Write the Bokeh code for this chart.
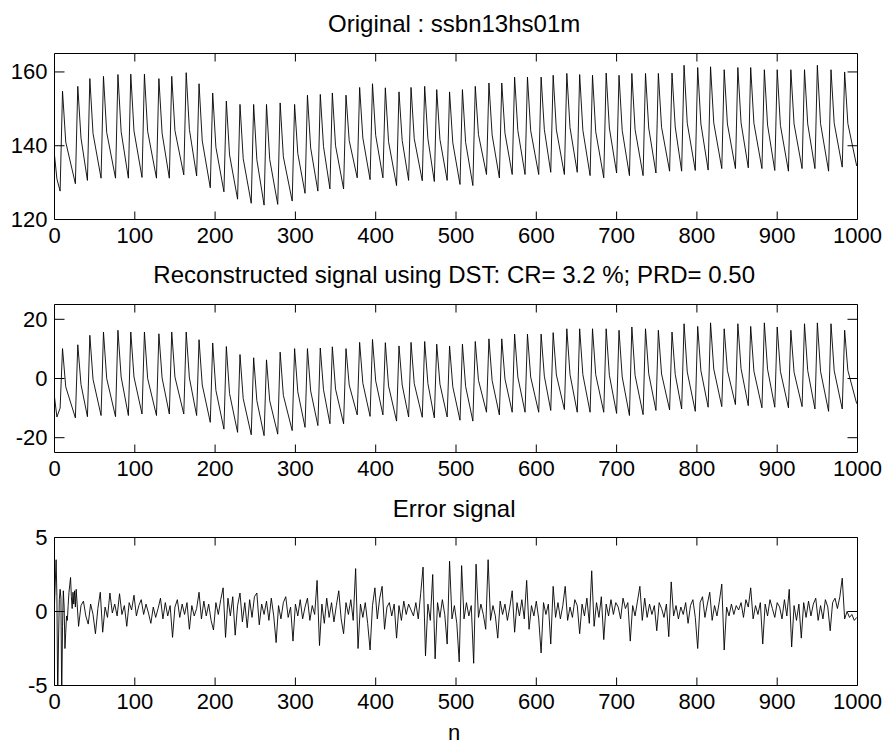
from math import pi
from bokeh.plotting import figure
from bokeh.layouts import column
from bokeh.models import Range1d, FixedTicker, Label
from bokeh.embed import file_html
from bokeh.resources import INLINE

FONT = "Liberation Sans"

# ---------------- data ----------------
x_ticks = [0, 100, 200, 300, 400, 500, 600, 700, 800, 900, 1000]

# beat landmarks (sample index): foot, systolic peak, dicrotic notch
beat_trough_x = [7, 26, 41, 58, 76, 92, 109, 127, 143, 161, 177, 194, 211, 228, 245, 261, 278, 296, 312, 328,
                 343, 360, 377, 393, 409, 426, 441, 458, 473, 489, 505, 521, 538, 554, 570, 586, 603, 618, 635, 651,
                 667, 684, 700, 716, 733, 749, 766, 781, 798, 814, 831, 848, 864, 881, 897, 914, 931, 947, 964, 981]
beat_peak_x = [10, 29, 44, 61, 79, 95, 112, 130, 146, 164, 180, 197, 214, 231, 248, 264, 281, 299, 315, 331,
               346, 363, 380, 396, 412, 429, 444, 461, 476, 492, 508, 524, 541, 557, 573, 589, 606, 621, 638, 654,
               670, 687, 703, 719, 736, 752, 769, 784, 801, 817, 834, 851, 867, 884, 900, 917, 934, 950, 967, 984]
beat_notch_x = [14, 33, 48, 65, 83, 99, 116, 134, 150, 168, 184, 201, 218, 235, 252, 268, 285, 303, 319, 335,
                350, 367, 384, 400, 416, 433, 448, 465, 480, 496, 512, 528, 545, 561, 577, 593, 610, 625, 642, 658,
                674, 691, 707, 723, 740, 756, 773, 788, 805, 821, 838, 855, 871, 888, 904, 921, 938, 954, 971, 988]

# Original signal
orig_head_x = [0, 3]
orig_head_y = [137.4, 131.0]
orig_trough = [127.7, 129.7, 130.6, 131.2, 131.2, 131.2, 131.4, 131.2, 131.2, 132.1,
               131.8, 128.6, 127.5, 125.5, 124.4, 123.9, 124.1, 125.0, 127.1, 127.7,
               128.3, 128.3, 131.3, 130.8, 131.3, 129.2, 130.6, 130.5, 130.3, 130.6,
               129.5, 129.2, 132.2, 131.3, 132.2, 132.2, 132.2, 132.8, 132.2, 132.8,
               131.9, 131.3, 132.6, 131.9, 131.9, 132.6, 133.1, 133.1, 133.3, 133.4,
               133.8, 133.8, 134.0, 133.8, 133.3, 133.1, 133.8, 133.8, 133.1, 134.2]
orig_peak = [154.8, 156.1, 158.2, 158.8, 159.3, 159.4, 159.4, 158.2, 158.8, 159.8,
             156.8, 154.3, 152.1, 151.2, 151.2, 151.2, 151.6, 151.2, 153.7, 153.9,
             154.3, 153.7, 155.8, 156.8, 155.7, 154.6, 155.8, 156.1, 155.2, 154.6,
             155.2, 156.1, 157.0, 157.0, 158.6, 158.6, 158.6, 159.1, 159.6, 159.3,
             159.1, 159.7, 159.1, 159.6, 159.6, 159.6, 159.7, 161.8, 161.2, 161.4,
             160.6, 161.2, 161.2, 160.6, 160.6, 160.6, 160.6, 161.8, 160.6, 160.0]
orig_notch = [141.0, 142.1, 143.3, 143.6, 143.8, 144.0, 143.9, 143.4, 144.1, 144.4,
              141.3, 139.6, 137.5, 136.5, 136.2, 136.3, 137.0, 137.9, 139.4, 139.8,
              140.0, 141.4, 142.1, 142.8, 141.1, 141.4, 141.9, 141.9, 141.7, 140.8,
              140.9, 143.0, 142.9, 143.4, 144.1, 144.1, 144.4, 144.3, 144.9, 144.2,
              143.8, 144.8, 144.1, 144.4, 144.8, 145.0, 145.1, 146.1, 145.9, 146.2,
              145.9, 146.2, 146.1, 145.6, 145.5, 145.9, 145.9, 146.0, 146.1, 146.0]
orig_tail_x = [999]
orig_tail_y = [134.5]

# Reconstructed signal
rec_head_x = [0, 3]
rec_head_y = [-6.3, -13.0]
rec_trough = [-10.0, -13.3, -12.9, -12.5, -12.9, -12.5, -12.0, -12.5, -12.0, -12.0,
              -12.5, -14.8, -17.1, -18.2, -19.0, -19.3, -18.8, -17.6, -16.5, -15.9,
              -15.3, -15.3, -12.3, -12.8, -12.3, -14.4, -13.0, -13.1, -13.3, -13.0,
              -14.1, -14.4, -11.4, -12.3, -11.4, -11.4, -11.4, -10.8, -10.5, -11.4,
              -11.4, -11.4, -11.8, -12.5, -12.2, -10.8, -10.6, -10.3, -11.1, -9.7,
              -9.5, -8.8, -9.2, -9.9, -9.7, -9.9, -9.5, -10.3, -11.1, -10.3]
rec_peak = [10.1, 11.4, 14.6, 15.7, 16.3, 15.7, 15.7, 15.1, 15.7, 15.7,
            13.1, 12.0, 10.8, 8.1, 7.0, 6.3, 8.9, 10.1, 10.1, 10.3,
            10.7, 10.1, 12.2, 13.2, 12.1, 11.0, 12.2, 12.5, 11.6, 11.0,
            11.6, 12.5, 13.4, 13.4, 15.0, 15.0, 15.0, 15.5, 16.8, 16.8,
            16.8, 16.8, 16.3, 17.4, 16.8, 16.3, 15.7, 18.5, 17.6, 18.8,
            16.8, 18.5, 17.6, 18.8, 17.4, 16.3, 18.5, 18.8, 18.5, 16.3]
rec_notch = [-2.8, -2.0, -0.3, 0.0, 0.5, 0.5, 0.0, 0.2, 0.5, 0.2,
             -2.2, -4.0, -5.1, -6.8, -7.5, -7.5, -5.7, -4.5, -4.2, -3.8,
             -3.6, -2.2, -1.6, -0.8, -2.5, -2.2, -1.7, -1.7, -1.9, -2.8,
             -2.7, -0.6, -0.7, -0.2, 0.5, 0.5, 0.8, 1.2, 1.3, 1.3,
             1.3, 1.1, 0.5, 1.1, 1.6, 1.5, 1.4, 2.2, 2.6, 3.2,
             2.7, 3.3, 2.5, 3.1, 2.4, 2.1, 2.7, 2.4, 2.6, 2.7]
rec_tail_x = [999]
rec_tail_y = [-8.5]

# Error signal
err_head_x = [0, 1, 2, 3, 4, 5, 6, 7, 8, 9, 10, 11, 12, 13, 14, 15, 16, 17, 18, 19, 20, 21, 22, 23, 24, 25, 26]
err_head_y = [0.5, 2.0, 3.5, 1.0, -6.0, -2.0, 0.8, 1.5, 0.9, -6.0, -1.0, 1.4, 0.3, -2.5, -1.4, -0.3, -0.6,
              0.4, 1.3, 1.8, 2.3, 1.0, 0.2, 1.3, 0.5, 1.4, 0.3]
err_body_start = 27
err_body_step = 3
err_body_y = [
    1.5, -1.0, 0.4, 0.7, -0.3, -0.85, 0.5, -0.2, -1.5, 0.2,
    1.3, -1.4, 0.3, -0.4, 1.25, -0.1, 0.5, -0.3, 1.2, -0.2,
    0.4, -1.0, 0.6, 0.1, 1.1, -0.3, 0.4, 0.8, -0.2, 0.5,
    -0.1, -0.8, 0.3, -0.4, 0.2, 0.9, -0.5, 0.6, -0.3, 0.4,
    -1.75, 0.3, 0.8, -0.4, 0.5, -0.2, 0.6, -1.2, 0.4, -0.3,
    0.2, 1.3, -0.5, 0.7, -0.3, 0.5, -0.6, -1.25, 0.6, -0.2,
    0.8, 1.6, -1.75, 0.9, -0.3, 1.0, -1.6, 0.4, 1.25, -0.7,
    0.6, -1.1, 0.8, -0.4, 1.0, 1.25, -0.9, 0.5, -0.2, 0.7,
    -0.6, 0.9, -0.3, -2.1, 0.4, -0.5, 0.6, 1.0, -0.4, 0.3,
    -2.0, 0.5, -0.3, 0.8, -0.5, 0.3, 0.9, -0.6, 0.4, -0.2,
    2.1, -2.3, 0.5, -0.8, 0.9, -0.4, 0.6, -0.7, 0.4, 1.4,
    -0.5, -1.5, 0.6, -0.2, 0.8, -0.6, 2.9, -2.5, 0.5, -0.4,
    0.6, -0.8, -2.6, 0.4, 1.6, -0.5, 0.9, 1.7, -1.2, 0.3,
    0.6, -0.3, 0.5, -1.8, 0.4, -0.6, 0.7, -0.2, 0.5, 0.1,
    -0.3, 0.6, -0.5, 1.2, 3.0, -3.0, 0.5, -0.6, 2.5, -3.2,
    0.6, -0.4, 0.8, -0.2, -2.2, 3.4, -0.5, 0.4, -0.8, -3.4,
    3.1, -0.5, 0.6, -0.3, 0.4, -3.5, 3.2, -0.4, 0.5, -0.2,
    -1.2, 3.5, -0.6, 0.4, -0.3, -1.8, 0.7, -0.2, 0.5, -0.6,
    0.3, 1.4, -1.4, 0.6, -0.3, 0.8, -0.5, 2.1, -1.2, 0.4,
    -0.3, 0.7, -0.5, -2.8, 0.6, -0.2, 0.5, -2.2, 1.7, -0.4,
    0.6, -0.5, 0.4, 1.7, -0.6, 0.3, -0.4, 0.8, 0.4, -1.5,
    0.5, -0.3, 0.9, -0.8, 2.75, -1.0, 0.6, -0.4, 1.0, -1.9,
    0.5, -0.3, 0.8, -0.2, 0.6, 0.3, -0.5, 0.9, 0.2, 0.6,
    -2.0, 0.4, -0.3, 0.7, 1.7, -0.6, 0.9, -0.4, 0.5, -0.2,
    0.4, -1.3, 0.6, 0.2, -0.4, 0.5, -1.7, 2.0, -0.3, 0.4,
    -0.5, 0.3, -0.2, 0.6, -0.8, 0.4, 0.8, -0.4, -2.5, 0.6,
    1.0, -0.4, 0.5, 1.3, -0.6, 0.4, -0.3, 0.7, 1.85, -2.6,
    0.3, -0.3, 0.5, -0.2, 0.4, 0.1, 0.6, -0.4, 0.8, 0.3,
    1.6, -0.5, 0.4, -0.2, 0.6, -2.2, 0.5, -0.3, 0.8, 0.2,
    -0.4, 0.6, 0.3, -0.5, 0.8, -0.3, 1.5, -2.4, 0.4, -0.6,
    0.5, -1.8, 0.6, -0.4, 0.7, -0.3, 0.5, 0.9, -0.6, 0.4,
    -0.5, 0.8, 0.3, -1.3, 0.6, 0.9, 0.2, 1.0, 2.25, -0.5,
    0.0, -0.4, -0.2, -0.6, -0.4]

titles = ["Original : ssbn13hs01m",
          "Reconstructed signal using DST: CR= 3.2 %; PRD= 0.50",
          "Error signal"]
y_ranges = [(120, 165), (-25, 25), (-5, 5)]
y_ticks = [[120, 140, 160], [-20, 0, 20], [-5, 0, 5]]
x_label = "n"


def beats(head_x, head_y, trough, peak, notch, tail_x, tail_y):
    xs, ys = list(head_x), list(head_y)
    for tx, ty, px, py, nx, ny in zip(beat_trough_x, trough, beat_peak_x, peak, beat_notch_x, notch):
        xs += [tx, px, nx]
        ys += [ty, py, ny]
    return xs + list(tail_x), ys + list(tail_y)


orig_x, orig_y = beats(orig_head_x, orig_head_y, orig_trough, orig_peak, orig_notch, orig_tail_x, orig_tail_y)
rec_x, rec_y = beats(rec_head_x, rec_head_y, rec_trough, rec_peak, rec_notch, rec_tail_x, rec_tail_y)
err_x = err_head_x + [err_body_start + err_body_step * i for i in range(len(err_body_y))]
err_y = err_head_y + err_body_y
series = [(orig_x, orig_y), (rec_x, rec_y), (err_x, err_y)]

# ---------------- layout (pixels) ----------------
W = 886
text_heights = [50, 51, 40]          # strip holding each title
text_baseline_up = [27.5, 27, 15.3]  # title anchor, px above the strip bottom
plot_heights = [200, 182, 195]
borders_top = [3, 3, 14]
frame_heights = [166, 148, 148]
XLABEL_H = 28
XLABEL_BASE = 14
TEXT_CX = 441
X_TICK_LEN = 8
Y_TICK_LEN = 10


def text_strip(text, h, base, size):
    t = figure(width=W, height=h, x_range=Range1d(0, W), y_range=Range1d(0, h),
               x_axis_type=None, y_axis_type=None, output_backend="svg", toolbar_location=None,
               min_border=0, min_border_left=0, min_border_right=0, min_border_top=0, min_border_bottom=0)
    t.outline_line_color = None
    t.xgrid.visible = False
    t.ygrid.visible = False
    t.background_fill_color = "white"
    t.border_fill_color = "white"
    t.add_layout(Label(x=TEXT_CX, y=base, text=text, text_align="center", text_baseline="alphabetic",
                       text_font=FONT, text_font_size=size, text_color="black"))
    return t


def style_axis(ax, ticks, overrides):
    ax.ticker = FixedTicker(ticks=ticks)
    ax.axis_line_color = None
    ax.major_tick_in = 0
    ax.major_tick_out = 0
    ax.minor_tick_line_color = None
    ax.major_tick_line_color = None
    ax.major_label_text_font = FONT
    ax.major_label_text_font_size = "22px"
    ax.major_label_text_color = "black"
    ax.major_label_overrides = overrides


children = []
for i in range(3):
    children.append(text_strip(titles[i], text_heights[i], text_baseline_up[i], "24px"))

    y0, y1 = y_ranges[i]
    p = figure(width=W, height=plot_heights[i], x_range=Range1d(0, 1000), y_range=Range1d(y0, y1),
               output_backend="svg", toolbar_location=None,
               min_border_left=54, min_border_right=29, min_border_top=borders_top[i],
               min_border_bottom=plot_heights[i] - borders_top[i] - frame_heights[i])
    p.outline_line_color = "black"
    p.outline_line_width = 1
    p.outline_line_alpha = 1
    p.xgrid.visible = False
    p.ygrid.visible = False
    p.background_fill_color = "white"
    p.border_fill_color = "white"

    xa = p.xaxis[0]
    style_axis(xa, x_ticks, {t: str(t) for t in x_ticks})
    xa.major_label_standoff = 8
    ya = p.yaxis[0]
    style_axis(ya, y_ticks[i], {t: str(t) for t in y_ticks[i]})
    ya.major_label_standoff = 7

    sx, sy = series[i]
    p.line(sx, sy, line_color="black", line_width=0.9)

    # inward tick marks on all four sides (half of each dash is clipped by the frame)
    xt = x_ticks
    yt = y_ticks[i]
    p.scatter(x=xt, y=[y0] * len(xt), marker="dash", size=2 * X_TICK_LEN, angle=pi / 2,
              line_color="black", line_width=1)
    p.scatter(x=xt, y=[y1] * len(xt), marker="dash", size=2 * X_TICK_LEN, angle=pi / 2,
              line_color="black", line_width=1)
    p.scatter(x=[0] * len(yt), y=yt, marker="dash", size=2 * Y_TICK_LEN,
              line_color="black", line_width=1)
    p.scatter(x=[1000] * len(yt), y=yt, marker="dash", size=2 * Y_TICK_LEN,
              line_color="black", line_width=1)
    children.append(p)

children.append(text_strip(x_label, XLABEL_H, XLABEL_BASE, "22px"))

layout = column(*children, spacing=0)
open("out.html", "w").write(file_html(layout, INLINE))
